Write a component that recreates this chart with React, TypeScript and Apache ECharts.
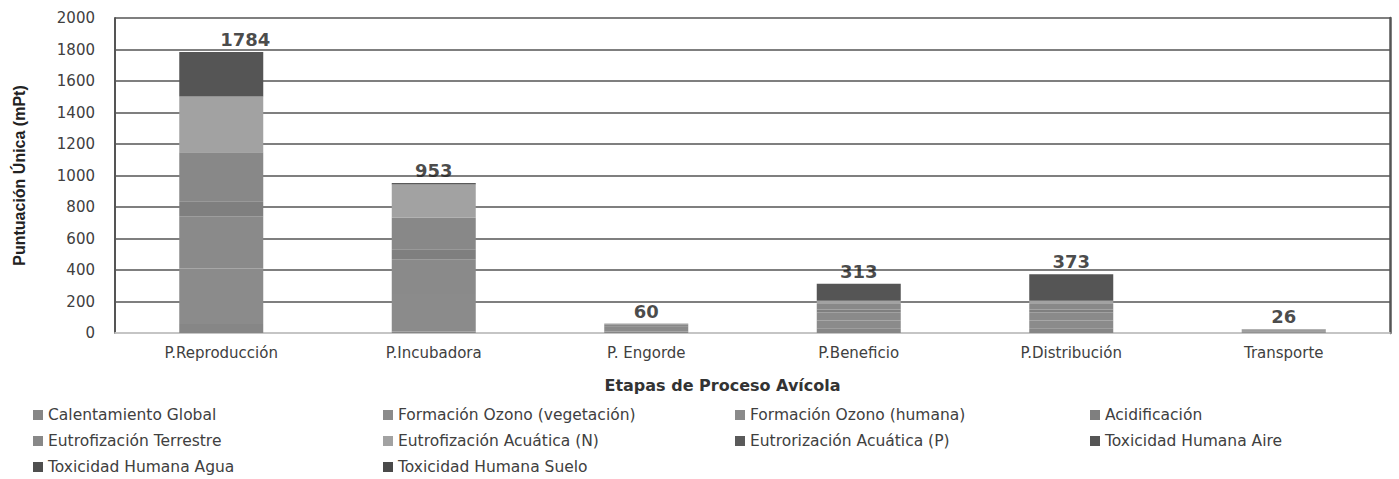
import React, { useEffect, useRef } from "react";
import * as echarts from "echarts";

const categories = ["P.Reproducción", "P.Incubadora", "P. Engorde", "P.Beneficio", "P.Distribución", "Transporte"];
const seriesNames = [
  "Calentamiento Global",
  "Formación Ozono (vegetación)",
  "Formación Ozono (humana)",
  "Acidificación",
  "Eutrofización Terrestre",
  "Eutrofización Acuática (N)",
  "Eutrorización Acuática (P)",
  "Toxicidad Humana Aire",
  "Toxicidad Humana Agua",
  "Toxicidad Humana Suelo",
];
const calentamiento = [57, 10, 10, 30, 30, 5];
const ozonoVeg = [352, 237, 15, 50, 50, 6];
const ozonoHum = [333, 221, 15, 50, 50, 6];
const acidificacion = [95, 64, 5, 20, 20, 2];
const eutTerrestre = [310, 200, 10, 34, 34, 4];
const eutAcuaticaN = [355, 211, 5, 20, 20, 3];
const eutAcuaticaP = [0, 10, 0, 0, 0, 0];
const toxAire = [282, 0, 0, 109, 169, 0];
const toxAgua = [0, 0, 0, 0, 0, 0];
const toxSuelo = [0, 0, 0, 0, 0, 0];
const totals = [1784, 953, 60, 313, 373, 26];
const yTicks = [0, 200, 400, 600, 800, 1000, 1200, 1400, 1600, 1800, 2000];

const seriesValues = [calentamiento, ozonoVeg, ozonoHum, acidificacion, eutTerrestre, eutAcuaticaN, eutAcuaticaP, toxAire, toxAgua, toxSuelo];
const colors = ["#868686", "#8b8b8b", "#8a8a8a", "#7f7f7f", "#888888", "#a2a2a2", "#5a5a5a", "#555555", "#4f4f4f", "#4a4a4a"];
const legendCols = [33, 383, 735, 1090];
const legendRows = [407, 433, 459];

export default function App() {
  const ref = useRef<HTMLDivElement>(null);
  useEffect(() => {
    document.body.style.margin = "0";
    const chart = echarts.init(ref.current!, null, { renderer: "svg" });
    const font = "DejaVu Sans, sans-serif";
    const legends = seriesNames.map((name, i) => ({
      left: legendCols[i % 4],
      top: legendRows[Math.floor(i / 4)],
      orient: "horizontal",
      icon: "rect",
      itemWidth: 10,
      itemHeight: 10,
      itemGap: 0,
      padding: 0,
      data: [name],
      textStyle: { fontFamily: font, fontSize: 15.5, color: "#404040" },
    }));
    chart.setOption({
      animation: false,
      grid: { left: 115, right: 9, top: 18, bottom: 146 },
      legend: legends,
      xAxis: {
        type: "category",
        data: categories,
        axisTick: { show: false },
        axisLine: { lineStyle: { color: "#dddddd", width: 1.5 } },
        axisLabel: { fontFamily: font, fontSize: 15, color: "#404040", margin: 12 },
        name: "Etapas de Proceso Avícola",
        nameLocation: "middle",
        nameGap: 44,
        nameTextStyle: { fontFamily: font, fontSize: 16, fontWeight: "bold", color: "#333", padding: [0, 60, 0, 0] },
      },
      yAxis: [
        {
          type: "value",
          min: 0,
          max: 2000,
          interval: 200,
          axisLine: { show: true, lineStyle: { color: "#555", width: 2 } },
          axisTick: { show: false },
          splitLine: { lineStyle: { color: "#555", width: 1.5 } },
          axisLabel: { fontFamily: font, fontSize: 15, color: "#404040", margin: 20, formatter: (v: number) => (yTicks.includes(v) ? String(v) : "") },
          name: "Puntuación Única (mPt)",
          nameLocation: "middle",
          nameGap: 88,
          nameTextStyle: { fontFamily: "Liberation Sans Narrow, Arial Narrow, sans-serif", fontSize: 16, fontWeight: "bold", color: "#222" },
        },
        {
          type: "value",
          min: 0,
          max: 2000,
          interval: 200,
          position: "right",
          axisLine: { show: true, lineStyle: { color: "#555", width: 2.5 } },
          axisTick: { show: false },
          axisLabel: { show: false },
          splitLine: { show: false },
        },
      ],
      series: [
        ...seriesNames.map((name, i) => ({
          name,
          type: "bar",
          stack: "total",
          barWidth: 84,
          data: seriesValues[i],
          itemStyle: { color: colors[i] },
        })),
        {
          type: "scatter",
          symbolSize: 1,
          itemStyle: { color: "transparent" },
          data: totals.map((v, i) => (i === 0 ? { value: v, label: { offset: [24, 0] } } : v)),
          label: {
            show: true,
            position: "top",
            distance: 3,
            fontFamily: font,
            fontSize: 18,
            fontWeight: "bold",
            color: "#1a1a1a",
          },
          z: 10,
        },
      ],
    });
    return () => chart.dispose();
  }, []);
  return <div ref={ref} style={{ width: 1399, height: 479 }} />;
}
